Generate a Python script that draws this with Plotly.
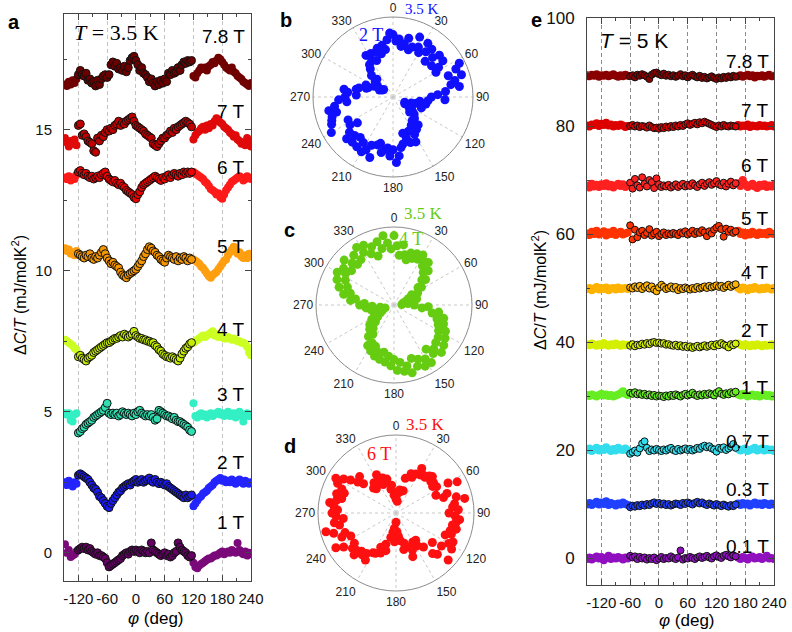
import plotly.graph_objects as go

W, H = 792, 632

# ---------------- Panel a data (T = 3.5 K) ----------------
PHI_A = [-120, -116, -112, -108, -104, -100, -96, -92, -88, -84,
         -80, -76, -72, -68, -64, -60, -56, -52, -48, -44,
         -40, -36, -32, -28, -24, -20, -16, -12, -8, -4,
         0, 4, 8, 12, 16, 20, 24, 28, 32, 36,
         40, 44, 48, 52, 56, 60, 64, 68, 72, 76,
         80, 84, 88, 92, 96, 100, 104, 108, 112, 116]
PHI_A_REP = [-148, -144, -140, -136, -132, -128, -124,
             120, 124, 128, 132, 136, 140, 144, 148, 152, 156,
             160, 164, 168, 172, 176, 180, 184, 188, 192, 196,
             200, 204, 208, 212, 216, 220, 224, 228, 232, 236,
             240]

A_78_MAIN = [16.95, 17.1, 16.95, 16.9, 17.0, 16.75, 16.8, 16.65, 16.7, 16.55,
             16.75, 16.6, 16.8, 16.9, 16.95, 16.85, 16.95, 17.3, 17.4, 17.25,
             17.35, 17.15, 17.2, 17.1, 17.25, 17.05, 17.2, 17.45, 17.55, 17.6,
             17.45, 17.3, 17.1, 17.2, 17.0, 16.95, 16.85, 16.7, 16.8, 16.65,
             16.55, 16.7, 16.6, 16.75, 16.65, 16.8, 16.7, 17.0, 16.95, 17.1,
             17.0, 17.05, 17.2, 17.1, 17.3, 17.4, 17.35, 17.45, 17.4, 17.45]
A_78_REP = [16.6, 16.55, 16.7, 16.6, 16.75, 16.65, 16.8,
            16.9, 16.85, 17.0, 17.1, 17.2, 17.15, 17.2, 17.1, 17.25, 17.3,
            17.4, 17.35, 17.45, 17.55, 17.5, 17.4, 17.3, 17.2, 17.15, 17.1,
            17.2, 17.05, 17.0, 16.9, 16.85, 16.8, 16.7, 16.65, 16.6, 16.55,
            16.65]
A_7_MAIN = [15.15, 15.2, 14.8, 14.85, 14.75, 14.6, 14.55, 14.5, 14.25, 14.2,
            14.7, 14.6, 14.8, 14.75, 14.9, 15.0, 14.95, 15.05, 15.0, 15.15,
            15.2, 15.3, 15.15, 15.25, 15.2, 15.3, 15.35, 15.4, 15.45, 15.3,
            15.15, 15.1, 15.05, 15.0, 14.95, 14.85, 14.8, 14.75, 14.7, 14.5,
            14.45, 14.4, 14.5, 14.6, 14.7, 14.7, 14.8, 14.85, 14.95, 14.9,
            15.05, 15.0, 15.1, 15.15, 15.2, 15.25, 15.3, 15.25, 15.2, 15.1]
A_7_REP = [14.7, 14.55, 14.4, 14.6, 14.5, 14.65, 14.45,
           14.65, 14.8, 14.9, 14.95, 15.05, 15.1, 15.0, 15.15, 15.05, 15.2,
           15.15, 15.3, 15.4, 15.35, 15.25, 15.2, 15.1, 15.05, 15.0, 14.9,
           14.85, 14.75, 14.8, 14.65, 14.6, 14.5, 14.55, 14.45, 14.7, 14.55,
           14.4]
A_6_MAIN = [13.5, 13.55, 13.45, 13.4, 13.45, 13.35, 13.3, 13.35, 13.25, 13.3,
            13.35, 13.3, 13.4, 13.45, 13.5, 13.35, 13.25, 13.2, 13.15, 13.2,
            13.1, 13.05, 13.1, 13.0, 12.95, 12.85, 12.8, 12.75, 12.7, 12.6,
            12.55, 12.7, 12.8, 12.95, 13.05, 13.1, 13.15, 13.2, 13.25, 13.3,
            13.35, 13.3, 13.25, 13.2, 13.3, 13.25, 13.35, 13.4, 13.3, 13.4,
            13.45, 13.4, 13.35, 13.45, 13.4, 13.5, 13.45, 13.5, 13.45, 13.5]
A_6_REP = [13.3, 13.25, 13.35, 13.2, 13.3, 13.25, 13.4,
           13.5, 13.45, 13.4, 13.35, 13.3, 13.25, 13.15, 13.1, 13.0, 12.9,
           12.85, 12.8, 12.7, 12.75, 12.6, 12.55, 12.7, 12.85, 12.95, 13.05,
           13.15, 13.2, 13.25, 13.3, 13.35, 13.3, 13.2, 13.25, 13.35, 13.3,
           13.25]
A_5_MAIN = [10.6, 10.55, 10.5, 10.45, 10.55, 10.5, 10.6, 10.45, 10.4, 10.5,
            10.45, 10.55, 10.65, 10.75, 10.6, 10.45, 10.35, 10.25, 10.3, 10.2,
            10.15, 10.1, 9.95, 9.85, 9.8, 9.75, 9.85, 9.9, 9.95, 10.0,
            10.05, 10.15, 10.25, 10.35, 10.5, 10.6, 10.75, 10.85, 10.8, 10.7,
            10.65, 10.55, 10.5, 10.4, 10.35, 10.3, 10.45, 10.55, 10.5, 10.45,
            10.4, 10.5, 10.35, 10.45, 10.4, 10.5, 10.45, 10.35, 10.45, 10.4]
A_5_REP = [10.8, 10.7, 10.75, 10.6, 10.65, 10.55, 10.7,
           10.4, 10.35, 10.3, 10.25, 10.15, 10.1, 10.0, 9.9, 9.8, 9.75,
           9.85, 9.9, 9.95, 10.05, 10.15, 10.25, 10.35, 10.4, 10.55, 10.65,
           10.75, 10.85, 10.7, 10.6, 10.65, 10.5, 10.45, 10.55, 10.45, 10.6,
           10.5]
A_4_MAIN = [6.95, 7.0, 6.9, 6.85, 6.8, 6.9, 6.95, 7.0, 7.1, 7.15,
            7.2, 7.25, 7.3, 7.35, 7.4, 7.45, 7.45, 7.5, 7.55, 7.6,
            7.6, 7.65, 7.7, 7.65, 7.75, 7.7, 7.65, 7.7, 7.75, 7.85,
            7.7, 7.65, 7.6, 7.6, 7.55, 7.55, 7.5, 7.5, 7.45, 7.45,
            7.35, 7.3, 7.2, 7.15, 7.05, 7.0, 6.95, 6.95, 6.9, 6.95,
            6.9, 6.85, 6.8, 6.9, 7.05, 7.15, 7.25, 7.3, 7.4, 7.45]
A_4_REP = [7.55, 7.5, 7.45, 7.4, 7.35, 7.25, 7.2,
           7.45, 7.5, 7.55, 7.6, 7.65, 7.7, 7.65, 7.7, 7.75, 7.8,
           7.85, 7.7, 7.75, 7.65, 7.7, 7.65, 7.6, 7.6, 7.65, 7.6,
           7.55, 7.6, 7.55, 7.5, 7.5, 7.45, 7.45, 7.4, 7.3, 7.1,
           7.0]
A_3_MAIN = [4.25, 4.3, 4.4, 4.45, 4.55, 4.6, 4.65, 4.7, 4.8, 4.85,
            4.9, 4.95, 5.0, 5.05, 5.15, 5.3, 4.95, 4.9, 4.95, 4.9,
            4.95, 4.85, 4.9, 5.0, 4.95, 4.9, 4.95, 4.9, 4.85, 4.95,
            4.9, 5.0, 5.05, 4.95, 4.9, 4.85, 4.9, 4.85, 4.9, 4.8,
            4.7, 4.75, 5.05, 5.0, 4.95, 4.9, 4.85, 4.85, 4.8, 4.75,
            4.8, 4.7, 4.65, 4.65, 4.6, 4.55, 4.5, 4.45, 4.35, 4.3]
A_3_REP = [4.95, 4.9, 4.95, 4.7, 4.65, 4.9, 4.95,
           5.3, 4.85, 4.8, 4.9, 4.95, 4.85, 4.9, 4.8, 4.9, 4.95,
           4.85, 4.9, 4.95, 5.0, 4.9, 4.95, 4.85, 4.9, 5.0, 4.85,
           4.9, 4.95, 4.8, 4.9, 5.0, 4.85, 4.65, 4.9, 4.95, 4.85,
           4.9]
A_2_MAIN = [2.75, 2.8, 2.75, 2.7, 2.65, 2.6, 2.5, 2.4, 2.3, 2.25,
            2.15, 2.0, 1.95, 1.85, 1.75, 1.65, 1.6, 1.75, 1.85, 1.95,
            2.05, 2.15, 2.2, 2.3, 2.35, 2.4, 2.45, 2.4, 2.5, 2.55,
            2.6, 2.5, 2.55, 2.6, 2.5, 2.55, 2.6, 2.65, 2.55, 2.5,
            2.6, 2.5, 2.45, 2.5, 2.45, 2.4, 2.45, 2.35, 2.3, 2.25,
            2.2, 2.15, 2.1, 2.05, 2.0, 1.95, 2.05, 1.95, 2.0, 2.05]
A_2_REP = [2.5, 2.4, 2.55, 2.45, 2.35, 2.5, 2.45,
           1.65, 1.75, 1.85, 1.95, 2.0, 2.1, 2.15, 2.2, 2.3, 2.35,
           2.4, 2.5, 2.55, 2.6, 2.65, 2.55, 2.6, 2.5, 2.55, 2.5,
           2.6, 2.5, 2.45, 2.55, 2.6, 2.5, 2.45, 2.55, 2.5, 2.45,
           2.5]
A_1_MAIN = [0.1, 0.15, 0.2, 0.15, 0.2, 0.1, 0.15, 0.05, 0.0, -0.05,
            0.0, -0.1, -0.1, -0.15, -0.2, -0.35, -0.5, -0.45, -0.4, -0.35,
            -0.3, -0.25, -0.2, -0.1, -0.05, 0.0, -0.05, 0.05, 0.1, 0.05,
            0.1, 0.05, 0.0, 0.1, 0.05, 0.0, 0.05, 0.0, 0.35, 0.1,
            0.05, 0.0, -0.05, -0.1, -0.05, 0.0, -0.1, -0.05, -0.15, -0.1,
            0.0, 0.05, 0.35, 0.2, 0.1, 0.05, 0.0, -0.1, -0.15, -0.1]
A_1_REP = [0.3, 0.0, 0.1, -0.15, -0.1, -0.05, 0.05,
           -0.35, -0.5, -0.55, -0.45, -0.4, -0.35, -0.3, -0.25, -0.2, -0.2,
           -0.15, -0.1, -0.1, -0.05, 0.0, 0.05, -0.05, 0.0, 0.05, 0.0,
           0.1, 0.05, 0.0, 0.35, 0.1, 0.0, -0.05, 0.05, -0.1, 0.0,
           -0.05]

A_LABELS = ["7.8 T", "7 T", "6 T", "5 T", "4 T", "3 T", "2 T", "1 T"]

# ---------------- Panel e data (T = 5 K) ----------------
PHI_E = [-60, -55, -50, -45, -40, -35, -30, -25, -20,
         -15, -10, -5, 0, 5, 10, 15, 20, 25,
         30, 35, 40, 45, 50, 55, 60, 65, 70,
         75, 80, 85, 90, 95, 100, 105, 110, 115,
         120, 125, 130, 135, 140, 145, 150, 155, 160]
PHI_E_REP = [-150, -145, -140, -135, -130, -125, -120, -115, -110,
             -105, -100, -95, -90, -85, -80, -75, -70, -65,
             165, 170, 175, 180, 185, 190, 195, 200,
             205, 210, 215, 220, 225, 230, 235, 240]

E_78_MAIN = [89.2, 89.4, 89.0, 89.5, 89.3, 89.6, 89.4, 89.1, 88.7,
             89.5, 89.8, 89.9, 89.6, 89.4, 89.7, 89.3, 89.5, 89.2,
             89.4, 89.1, 89.3, 89.6, 89.2, 89.4, 89.0, 89.3, 89.5,
             89.2, 89.0, 89.3, 88.9, 89.1, 88.8, 89.0, 89.2, 88.9,
             88.7, 89.0, 88.8, 89.1, 88.9, 89.2, 89.0, 89.3, 89.1]
E_78_REP = [89.4, 89.2, 89.5, 89.3, 89.6, 89.1, 89.4, 89.3, 89.5,
            89.2, 89.4, 89.6, 89.3, 89.1, 89.4, 89.2, 89.5, 89.3,
            89.2, 89.4, 89.1, 89.3, 89.5, 89.2, 89.4, 89.0,
            89.3, 89.2, 89.4, 89.1, 89.3, 89.5, 89.2, 89.3]
E_7_MAIN = [80.0, 80.2, 79.9, 80.1, 79.8, 80.0, 79.9, 79.7, 80.1,
            79.8, 79.6, 79.7, 79.5, 79.8, 79.6, 79.9, 79.7, 80.0,
            79.8, 80.1, 79.9, 80.2, 80.0, 80.3, 80.5, 80.2, 80.4,
            80.6, 80.3, 80.7, 80.5, 80.8, 80.6, 80.4, 80.2, 80.0,
            79.8, 80.1, 79.9, 80.2, 80.0, 79.9, 80.1, 80.0, 79.9]
E_7_REP = [80.1, 79.9, 80.3, 80.2, 80.5, 80.0, 80.4, 80.2, 80.6,
           80.1, 80.3, 79.9, 80.2, 80.0, 80.3, 80.1, 79.8, 80.0,
           80.2, 79.9, 80.1, 80.0, 80.3, 79.8, 80.1, 80.0,
           79.9, 80.2, 80.0, 80.1, 79.9, 80.0, 80.2, 79.9]
E_6_MAIN = [69.5, 68.4, 70.2, 69.0, 68.6, 70.5, 69.3, 68.8, 70.0,
            69.6, 68.5, 70.3, 69.2, 68.7, 69.0, 68.8, 69.1, 68.6,
            68.9, 69.2, 68.7, 69.0, 69.3, 68.8, 69.1, 68.9, 69.4,
            69.0, 68.7, 69.2, 69.5, 68.9, 69.3, 69.6, 69.1, 69.4,
            69.8, 69.2, 69.0, 69.5, 68.8, 69.3, 69.7, 69.0, 69.4]
E_6_REP = [69.0, 68.6, 69.3, 68.8, 69.1, 68.7, 69.2, 68.9, 69.4,
           68.8, 69.1, 68.6, 69.0, 69.3, 68.9, 69.2, 68.7, 69.0,
           69.4, 68.9, 70.0, 69.2, 68.7, 69.0, 69.3, 68.8,
           68.5, 69.1, 68.9, 69.2, 68.7, 69.0, 68.8, 69.1]
E_5_MAIN = [61.6, 59.0, 60.8, 59.4, 60.3, 60.6, 59.8, 60.2, 60.9,
            59.7, 60.1, 60.4, 59.6, 60.0, 60.3, 59.8, 60.1, 59.9,
            60.2, 60.0, 59.8, 60.3, 60.1, 60.5, 59.9, 60.2, 60.6,
            60.0, 60.4, 60.2, 60.7, 60.3, 59.6, 60.5, 60.1, 60.8,
            61.2, 61.5, 60.9, 59.5, 61.0, 60.4, 60.8, 60.2, 60.5]
E_5_REP = [60.1, 59.8, 60.4, 60.0, 60.6, 59.9, 60.2, 60.5, 59.7,
           60.3, 60.0, 60.6, 59.8, 60.2, 60.4, 59.9, 60.1, 60.3,
           60.6, 60.0, 60.3, 59.7, 60.2, 59.9, 60.4, 60.1,
           59.8, 60.3, 60.0, 60.2, 59.9, 60.4, 60.1, 60.0]
E_4_MAIN = [50.1, 49.9, 50.3, 50.0, 50.4, 49.8, 50.2, 50.5, 49.9,
            50.3, 49.7, 49.4, 50.1, 50.6, 50.2, 49.8, 50.0, 50.3,
            49.9, 50.2, 49.6, 50.0, 49.8, 50.1, 49.9, 49.7, 50.0,
            49.8, 50.2, 49.9, 50.1, 50.3, 50.0, 50.4, 50.1, 50.3,
            50.5, 50.2, 50.4, 50.0, 50.3, 50.6, 50.2, 50.5, 50.7]
E_4_REP = [49.8, 50.0, 49.6, 49.9, 50.2, 49.7, 50.0, 49.8, 50.1,
           49.6, 49.9, 50.0, 49.7, 50.1, 49.8, 49.9, 50.0, 49.8,
           50.0, 49.7, 50.1, 49.9, 49.6, 50.0, 49.8, 50.2,
           49.9, 49.7, 50.0, 49.8, 50.1, 49.9, 49.7, 50.0]
E_2_MAIN = [39.3, 39.6, 39.2, 39.5, 39.4, 39.7, 39.5, 39.8, 39.6,
            39.9, 40.0, 39.8, 39.9, 39.7, 39.8, 39.5, 39.6, 39.4,
            39.3, 39.5, 39.2, 39.4, 39.1, 39.3, 39.0, 39.2, 38.9,
            39.1, 39.3, 39.0, 39.2, 39.4, 39.1, 39.3, 39.5, 39.2,
            39.6, 39.4, 39.8, 39.5, 39.3, 39.0, 39.6, 39.4, 39.7]
E_2_REP = [39.6, 39.4, 39.7, 39.5, 39.3, 39.6, 39.4, 39.8, 39.5,
           39.3, 39.6, 39.4, 39.7, 39.5, 39.3, 39.6, 39.4, 39.5,
           39.7, 39.5, 39.3, 39.6, 39.4, 39.2, 39.5, 39.3,
           39.6, 39.4, 39.2, 39.5, 39.3, 39.4, 39.6, 39.3]
E_1_MAIN = [30.6, 30.4, 30.7, 30.3, 30.5, 30.2, 30.4, 30.1, 30.3,
            30.0, 30.2, 29.9, 30.1, 30.0, 29.8, 30.1, 29.9, 30.2,
            30.0, 30.3, 30.1, 29.9, 30.2, 30.4, 30.1, 30.3, 30.6,
            30.2, 30.0, 30.3, 30.1, 30.4, 30.2, 30.5, 30.3, 30.1,
            30.6, 30.9, 30.4, 30.2, 30.5, 30.3, 30.7, 30.5, 30.8]
E_1_REP = [30.2, 30.0, 30.3, 30.1, 29.9, 30.2, 30.4, 30.1, 30.3,
           30.0, 30.2, 29.9, 30.1, 30.3, 30.5, 30.9, 30.4, 30.2,
           30.3, 30.1, 30.4, 30.2, 29.9, 30.1, 30.3, 30.0,
           30.2, 29.9, 30.1, 30.3, 30.0, 30.2, 29.9, 30.1]
E_07_MAIN = [19.3, 19.6, 19.9, 19.5, 20.3, 21.2, 21.6, 20.4, 19.8,
             20.1, 19.9, 20.2, 20.0, 19.8, 20.1, 19.9, 20.2, 20.4,
             20.0, 19.8, 20.2, 19.9, 20.1, 20.3, 20.0, 20.2, 19.9,
             20.1, 20.4, 20.2, 20.6, 20.8, 20.5, 20.7, 20.3, 20.1,
             19.7, 20.4, 20.2, 20.5, 20.0, 20.3, 20.6, 21.1, 20.4]
E_07_REP = [20.0, 20.3, 19.8, 20.1, 20.4, 19.9, 20.2, 20.0, 20.5,
            20.1, 19.8, 20.2, 19.9, 20.4, 20.1, 20.0, 20.3, 19.9,
            20.2, 19.9, 20.1, 20.3, 19.8, 20.0, 20.2, 20.4,
            19.9, 20.1, 20.3, 19.9, 20.2, 20.0, 20.1, 19.8]
E_03_MAIN = [9.4, 9.7, 9.5, 9.8, 9.6, 9.9, 9.7, 10.0, 9.8,
             10.1, 10.3, 10.0, 10.2, 9.9, 10.1, 9.8, 10.0, 9.7,
             9.9, 10.1, 10.0, 9.8, 10.2, 10.0, 10.3, 10.1, 9.9,
             10.2, 10.4, 10.1, 10.3, 10.0, 9.8, 10.1, 9.9, 9.7,
             10.0, 9.8, 9.6, 9.9, 9.7, 9.5, 9.8, 9.6, 9.9]
E_03_REP = [9.9, 10.2, 9.8, 10.1, 10.4, 9.9, 10.3, 10.0, 10.5,
            9.8, 10.2, 10.0, 9.7, 10.1, 9.9, 10.3, 10.0, 9.8,
            10.1, 9.8, 10.2, 9.9, 10.1, 9.7, 10.0, 10.3,
            9.9, 10.1, 9.8, 10.2, 10.0, 9.8, 10.1, 9.9]
E_01_MAIN = [0.4, 0.1, 0.3, -0.2, 0.2, -0.1, 0.1, -0.3, 0.0,
             -0.2, 0.1, -0.4, -0.1, 0.2, -0.2, 0.0, -0.1, 0.3,
             0.0, -0.2, 0.1, 1.4, -0.3, 0.0, -0.1, 0.2, 0.0,
             -0.2, 0.1, 0.3, 0.0, 0.2, 0.4, 0.1, -0.1, 0.3,
             0.5, 0.2, 0.0, 0.4, 0.6, 0.3, 0.1, 0.5, 0.3]
E_01_REP = [-0.2, 0.1, -0.3, 0.0, 0.3, -0.1, 0.2, -0.4, 0.0,
            0.4, -0.2, 0.1, -0.1, 0.2, 0.0, -0.3, 0.1, -0.1,
            0.1, -0.2, 0.2, 0.0, -0.3, 0.1, 0.3, -0.1,
            0.0, 0.2, -0.2, 0.1, 0.4, -0.1, 0.0, -0.2]

E_LABELS = ["7.8 T", "7 T", "6 T", "5 T", "4 T", "2 T", "1 T", "0.7 T", "0.3 T", "0.1 T"]

X_TICKS = [-120, -60, 0, 60, 120, 180, 240]
X_TICKTEXT = ["-120", "-60", "0", "60", "120", "180", "240"]

# ---------------- Polar data (b: 2 T, c: 4 T, d: 6 T at 3.5 K) ----------------
THETA = [0, 3, 6, 9, 12, 15, 18, 21, 24, 27,
         30, 33, 36, 39, 42, 45, 48, 51, 54, 57,
         60, 63, 66, 69, 72, 75, 78, 81, 84, 87,
         90, 93, 96, 99, 102, 105, 108, 111, 114, 117,
         120, 123, 126, 129, 132, 135, 138, 141, 144, 147,
         150, 153, 156, 159, 162, 165, 168, 171, 174, 177,
         180, 183, 186, 189, 192, 195, 198, 201, 204, 207,
         210, 213, 216, 219, 222, 225, 228, 231, 234, 237,
         240, 243, 246, 249, 252, 255, 258, 261, 264, 267,
         270, 273, 276, 279, 282, 285, 288, 291, 294, 297,
         300, 303, 306, 309, 312, 315, 318, 321, 324, 327,
         330, 333, 336, 339, 342, 345, 348, 351, 354, 357]
R_B_2T = [0.78, 0.70, 0.73, 0.64, 0.68, 0.76, 0.62, 0.67, 0.82, 0.70,
          0.64, 0.80, 0.70, 0.77, 0.60, 0.70, 0.78, 0.62, 0.77, 0.68,
          0.62, 0.93, 0.86, 0.74, 0.90, 0.80, 0.74, 0.84, 0.66, 0.56,
          0.48, 0.65, 0.44, 0.34, 0.42, 0.30, 0.24, 0.38, 0.16, 0.26,
          0.17, 0.24, 0.30, 0.34, 0.28, 0.38, 0.47, 0.38, 0.50, 0.42,
          0.54, 0.63, 0.47, 0.61, 0.54, 0.47, 0.60, 0.64, 0.74, 0.82,
          0.66, 0.74, 0.64, 0.67, 0.71, 0.60, 0.63, 0.81, 0.66, 0.74,
          0.79, 0.68, 0.77, 0.65, 0.76, 0.68, 0.78, 0.70, 0.55, 0.64,
          0.89, 0.63, 0.84, 0.82, 0.80, 0.73, 0.82, 0.74, 0.58, 0.68,
          0.60, 0.46, 0.57, 0.62, 0.47, 0.44, 0.35, 0.33, 0.37, 0.19,
          0.27, 0.16, 0.24, 0.15, 0.30, 0.38, 0.30, 0.45, 0.50, 0.62,
          0.53, 0.61, 0.50, 0.60, 0.64, 0.56, 0.66, 0.60, 0.72, 0.80]
R_C_4T = [0.89, 0.76, 0.64, 0.78, 0.66, 0.60, 0.70, 0.64, 0.72, 0.66,
          0.74, 0.68, 0.62, 0.70, 0.56, 0.62, 0.48, 0.52, 0.38, 0.42,
          0.26, 0.34, 0.20, 0.28, 0.16, 0.30, 0.12, 0.24, 0.18, 0.10,
          0.26, 0.44, 0.36, 0.58, 0.50, 0.66, 0.58, 0.68, 0.62, 0.74,
          0.66, 0.78, 0.70, 0.82, 0.72, 0.86, 0.76, 0.80, 0.70, 0.88,
          0.80, 0.88, 0.76, 0.84, 0.72, 0.90, 0.80, 0.86, 0.74, 0.84,
          0.70, 0.78, 0.66, 0.74, 0.62, 0.72, 0.64, 0.70, 0.58, 0.66,
          0.56, 0.62, 0.46, 0.52, 0.40, 0.44, 0.32, 0.40, 0.26, 0.34,
          0.20, 0.28, 0.16, 0.26, 0.12, 0.22, 0.30, 0.18, 0.36, 0.28,
          0.44, 0.38, 0.56, 0.50, 0.66, 0.58, 0.74, 0.64, 0.80, 0.70,
          0.84, 0.74, 0.80, 0.70, 0.86, 0.76, 0.70, 0.82, 0.72, 0.88,
          0.78, 0.86, 0.72, 0.80, 0.66, 0.84, 0.74, 0.90, 0.80, 0.72]
R_D_6T = [0.18, 0.24, 0.15, 0.30, 0.28, 0.46, 0.30, 0.54, 0.50, 0.56,
          0.66, 0.58, 0.60, 0.59, 0.64, 0.66, 0.60, 0.62, 0.58, 0.62,
          0.77, 0.88, 0.56, 0.70, 0.64, 0.80, 0.90, 0.76, 0.73, 0.80,
          0.68, 0.76, 0.82, 0.78, 0.74, 0.80, 0.73, 0.76, 0.69, 0.82,
          0.78, 0.85, 0.72, 0.60, 0.90, 0.75, 0.70, 0.56, 0.43, 0.50,
          0.43, 0.48, 0.52, 0.60, 0.46, 0.40, 0.48, 0.36, 0.30, 0.24,
          0.12, 0.37, 0.20, 0.25, 0.32, 0.50, 0.42, 0.55, 0.48, 0.58,
          0.59, 0.72, 0.64, 0.69, 0.66, 0.76, 0.70, 0.72, 0.66, 0.80,
          0.89, 0.65, 0.76, 0.70, 0.84, 0.93, 0.74, 0.80, 0.68, 0.77,
          0.82, 0.75, 0.80, 0.86, 0.78, 0.72, 0.80, 0.71, 0.76, 0.84,
          0.89, 0.80, 0.72, 0.63, 0.56, 0.66, 0.43, 0.40, 0.48, 0.46,
          0.44, 0.55, 0.40, 0.48, 0.42, 0.45, 0.31, 0.36, 0.23, 0.26]
ANG_TICKS = [0, 30, 60, 90, 120, 150, 180, 210, 240, 270, 300, 330]

# ---------------- styles ----------------
SANS = "Liberation Sans"
SERIF = "Liberation Serif"

A_SERIES = [
    (A_78_MAIN, A_78_REP, "#6c0000", "#700000"),
    (A_7_MAIN, A_7_REP, "#c00000", "#e00a0a"),
    (A_6_MAIN, A_6_REP, "#ee0000", "#ff1a1a"),
    (A_5_MAIN, A_5_REP, "#f59500", "#ff9f10"),
    (A_4_MAIN, A_4_REP, "#c4ec00", "#ccff22"),
    (A_3_MAIN, A_3_REP, "#2ee0b0", "#33f0c4"),
    (A_2_MAIN, A_2_REP, "#1a1aee", "#2424ff"),
    (A_1_MAIN, A_1_REP, "#640064", "#7a0a7a"),
]
E_SERIES = [
    (E_78_MAIN, E_78_REP, "#8a0000"),
    (E_7_MAIN, E_7_REP, "#dd0000"),
    (E_6_MAIN, E_6_REP, "#ff2020"),
    (E_5_MAIN, E_5_REP, "#ff3300"),
    (E_4_MAIN, E_4_REP, "#ffb300"),
    (E_2_MAIN, E_2_REP, "#d4f000"),
    (E_1_MAIN, E_1_REP, "#66ee22"),
    (E_07_MAIN, E_07_REP, "#33ddee"),
    (E_03_MAIN, E_03_REP, "#2040ff"),
    (E_01_MAIN, E_01_REP, "#9010c0"),
]

fig = go.Figure()

for main, rep, cmain, crep in A_SERIES:
    fig.add_trace(go.Scatter(x=PHI_A_REP, y=rep, mode="markers", xaxis="x", yaxis="y",
                             marker=dict(size=8, color=crep, line=dict(width=0)),
                             hoverinfo="skip"))
    fig.add_trace(go.Scatter(x=PHI_A, y=main, mode="markers", xaxis="x", yaxis="y",
                             marker=dict(size=8, color=cmain, line=dict(width=1, color="#111")),
                             hoverinfo="skip"))

for main, rep, col in E_SERIES:
    fig.add_trace(go.Scatter(x=PHI_E_REP, y=rep, mode="markers", xaxis="x2", yaxis="y2",
                             marker=dict(size=8, color=col, line=dict(width=0)),
                             hoverinfo="skip"))
    fig.add_trace(go.Scatter(x=PHI_E, y=main, mode="markers", xaxis="x2", yaxis="y2",
                             marker=dict(size=7, color=col, line=dict(width=1, color="#111")),
                             hoverinfo="skip"))

for rvals, col, sub in [(R_B_2T, "#1010ff", "polar"), (R_C_4T, "#66cc11", "polar2"),
                        (R_D_6T, "#ff1010", "polar3")]:
    fig.add_trace(go.Scatterpolar(r=rvals, theta=THETA, mode="markers", subplot=sub,
                                  marker=dict(size=9, color=col, line=dict(width=0)),
                                  hoverinfo="skip"))


def px_dom_x(a, b):
    return [a / W, b / W]


def px_dom_y(top, bottom):
    return [(H - bottom) / H, (H - top) / H]


AX = dict(showline=True, linecolor="#444", linewidth=1, mirror="allticks",
          ticks="inside", ticklen=6, tickwidth=1, tickcolor="#444", automargin=False,
          zeroline=False, tickfont=dict(family=SANS, size=15, color="#111"))

fig.update_layout(
    xaxis=dict(AX, domain=px_dom_x(64, 251), anchor="y", range=[-150, 240],
               tickmode="array", tickvals=X_TICKS, ticktext=X_TICKTEXT, tickangle=0,
               showgrid=True, gridcolor="#c4c4c4", griddash="4px,3px", gridwidth=1,
               minor=dict(tickmode="linear", dtick=30, tick0=0, ticks="inside", ticklen=3,
                          tickcolor="#444", showgrid=False),
               ticklabelstandoff=4),
    yaxis=dict(AX, domain=px_dom_y(14, 581), anchor="x", range=[-1.0, 19.1],
               tickmode="linear", tick0=0, dtick=5, showgrid=False,
               minor=dict(dtick=2.5, tick0=0, ticks="inside", ticklen=3, tickcolor="#444", showgrid=False),
               ticklabelstandoff=8),
    xaxis2=dict(AX, domain=px_dom_x(587, 774), anchor="y2", range=[-150, 240],
                tickmode="array", tickvals=X_TICKS, ticktext=X_TICKTEXT, tickangle=0,
                showgrid=True, gridcolor="#8a8a8a", griddash="4px,3px", gridwidth=1,
                minor=dict(tickmode="linear", dtick=30, tick0=0, ticks="inside", ticklen=3,
                           tickcolor="#444", showgrid=False),
                tickfont=dict(family=SANS, size=15, color="#111"), ticklabelstandoff=4),
    yaxis2=dict(AX, domain=px_dom_y(18, 585), anchor="x2", range=[-5, 100],
                tickmode="linear", tick0=0, dtick=20, showgrid=False,
                minor=dict(dtick=10, tick0=0, ticks="inside", ticklen=3, tickcolor="#444", showgrid=False),
                tickfont=dict(family=SANS, size=17, color="#111"), ticklabelstandoff=8),
)

POLAR_ANG = dict(rotation=90, direction="clockwise", tickmode="array", tickvals=ANG_TICKS,
                 ticktext=[str(t) for t in ANG_TICKS], showline=True, linecolor="#8c8c8c",
                 linewidth=1, showgrid=True, gridcolor="#c8c8c8", griddash="dot", ticks="",
                 tickfont=dict(family=SANS, size=12, color="#222"))
POLAR_RAD = dict(range=[0, 1], showticklabels=False, showgrid=False, showline=False, ticks="")


def polar_layout(cx, cy, r):
    return dict(domain=dict(x=px_dom_x(cx - r, cx + r), y=px_dom_y(cy - r, cy + r)),
                bgcolor="white", angularaxis=POLAR_ANG, radialaxis=POLAR_RAD)


fig.update_layout(polar=polar_layout(393, 97, 80),
                  polar2=polar_layout(394, 305, 78),
                  polar3=polar_layout(396, 513, 78))


def ann(text, x, y, size, color="black", family=SANS, xanchor="center", yanchor="middle", angle=0):
    return dict(text=text, x=x / W, y=1 - y / H, xref="paper", yref="paper", showarrow=False,
                font=dict(family=family, size=size, color=color), xanchor=xanchor,
                yanchor=yanchor, textangle=angle)


A_LABEL_Y = [37, 111, 168, 246, 329, 394, 462, 522]
E_LABEL_Y = [62, 110, 165, 218, 272, 330, 387, 441, 489, 546]

anns = []
for lab, y in zip(A_LABELS, A_LABEL_Y):
    anns.append(ann(lab, 247, y, 19, xanchor="right"))
for lab, y in zip(E_LABELS, E_LABEL_Y):
    anns.append(ann(lab, 771, y, 19, xanchor="right"))

anns += [
    ann("<b>a</b>", 14, 22, 20),
    ann("<b>b</b>", 286, 20, 20),
    ann("<b>c</b>", 289, 230, 20),
    ann("<b>d</b>", 290, 446, 20),
    ann("<b>e</b>", 536, 20, 20),
    ann("<i>T</i> = 3.5 K", 72, 32, 22, family=SERIF, xanchor="left"),
    ann("<i>T</i> = 5 K", 598, 40, 21, xanchor="left"),
    ann("Δ<i>C</i>/<i>T</i> (mJ/molK<sup>2</sup>)", 19, 295, 16, angle=-90),
    ann("Δ<i>C</i>/<i>T</i> (mJ/molK<sup>2</sup>)", 539, 290, 16, angle=-90),
    ann("<i>φ</i> (deg)", 156, 618, 17),
    ann("<i>φ</i> (deg)", 687, 620, 17),
    ann("3.5 K", 422, 9, 15, color="#1010ff", family=SERIF),
    ann("2 T", 371, 35, 18, color="#1010ff", family=SERIF),
    ann("3.5 K", 423, 213, 17, color="#66cc11", family=SERIF),
    ann("4 T", 411, 239, 18, color="#66cc11", family=SERIF),
    ann("3.5 K", 425, 424, 17, color="#ff1010", family=SERIF),
    ann("6 T", 379, 454, 18, color="#ff1010", family=SERIF),
]

fig.update_layout(width=W, height=H, margin=dict(l=0, r=0, t=0, b=0, autoexpand=False),
                  paper_bgcolor="white", plot_bgcolor="white", showlegend=False,
                  annotations=anns)

fig.write_html("out.html")
